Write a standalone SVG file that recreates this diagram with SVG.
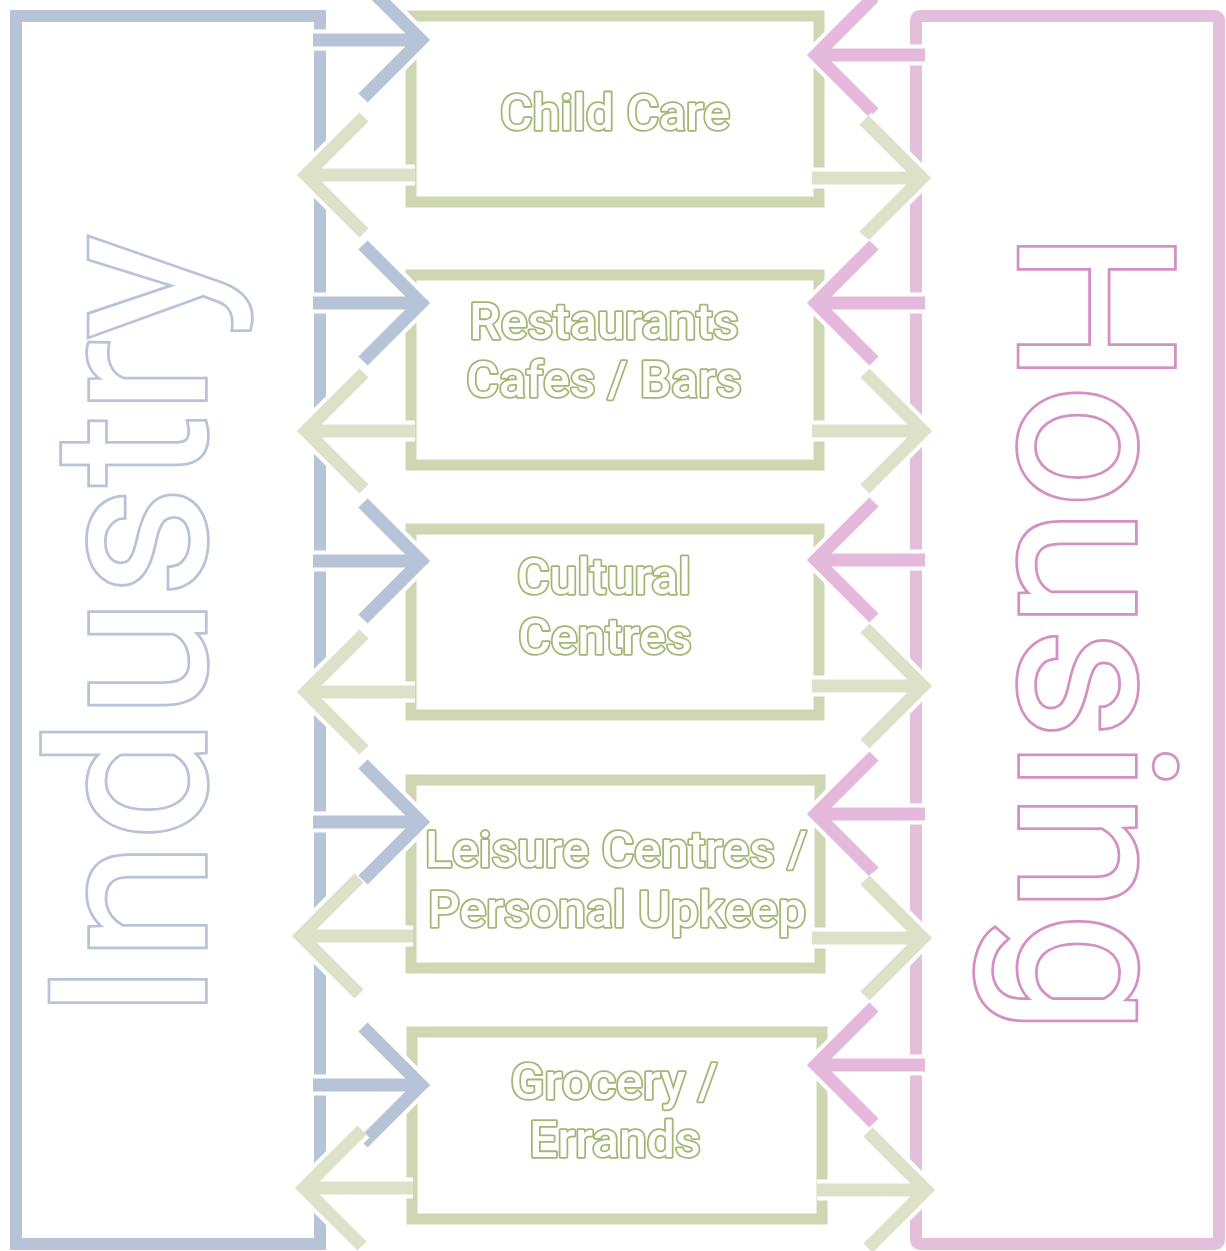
<svg xmlns="http://www.w3.org/2000/svg" width="1226" height="1251" viewBox="0 0 1226 1251">
<style>
.bg{fill:#ffffff}
.ind{fill:none;stroke:#b7c3d7;stroke-width:12}
.hou{fill:none;stroke:#e3bfdc;stroke-width:12}
.box{fill:none;stroke:#cfd6b2;stroke-width:11}
.halo{fill:none;stroke:#ffffff;stroke-width:21;stroke-linejoin:miter}
.ab{fill:none;stroke:#b7c3d7;stroke-width:13;stroke-linejoin:miter}
.ap{fill:none;stroke:#e5b9dc;stroke-width:13;stroke-linejoin:miter}
.ag{fill:none;stroke:#dce1c8;stroke-width:13;stroke-linejoin:miter}
.lbl{font-family:Roboto,"Liberation Sans",sans-serif;font-weight:500;font-size:50px;fill:#ffffff;stroke:#a3b775;stroke-width:3.6;paint-order:stroke fill;stroke-linejoin:round;text-anchor:middle}
.big{font-family:Roboto,"Liberation Sans",sans-serif;font-weight:400;fill:#ffffff;stroke-width:5.5;paint-order:stroke fill;stroke-linejoin:miter;text-anchor:middle}
</style>
<rect class="bg" x="0" y="0" width="1226" height="1251"/>
<g id="industry">
<rect class="ind" x="16" y="16" width="304" height="1228"/>
<text class="big" font-size="218" stroke="#b7c3d7" transform="translate(205,628) rotate(-90)">Industry</text>
</g>
<g id="housing">
<rect class="hou" x="916" y="16" width="303" height="1228" rx="4"/>
<text class="big" font-size="217" stroke="#d48fc3" transform="translate(1020,632) rotate(90)">Housing</text>
</g>
<g id="childcare">
<rect class="box" x="411" y="16" width="408" height="186"/>
</g>
<g id="restaurants">
<rect class="box" x="411" y="275" width="408" height="190"/>
</g>
<g id="cultural">
<rect class="box" x="411" y="529" width="408" height="186"/>
</g>
<g id="leisure">
<rect class="box" x="411" y="780" width="409" height="188"/>
</g>
<g id="grocery">
<rect class="box" x="412" y="1032" width="410" height="187"/>
</g>
<g id="connectors">
<!-- row 1 -->
<path class="halo" d="M313 40 H421 M363 -18 L421 40 L363 98"/>
<path class="ab" d="M313 40 H421 M363 -18 L421 40 L363 98"/>
<path class="halo" d="M925 55 H816 M874 -3 L816 55 L874 113"/>
<path class="ap" d="M925 55 H816 M874 -3 L816 55 L874 113"/>
<path class="halo" d="M415 175 H306 M364 117 L306 175 L364 233"/>
<path class="ag" d="M415 175 H306 M364 117 L306 175 L364 233"/>
<path class="halo" d="M812 178 H922 M864 120 L922 178 L864 236"/>
<path class="ag" d="M812 178 H922 M864 120 L922 178 L864 236"/>
<!-- row 2 -->
<path class="halo" d="M313 303 H421 M363 245 L421 303 L363 361"/>
<path class="ab" d="M313 303 H421 M363 245 L421 303 L363 361"/>
<path class="halo" d="M925 303 H816 M874 245 L816 303 L874 361"/>
<path class="ap" d="M925 303 H816 M874 245 L816 303 L874 361"/>
<path class="halo" d="M415 431 H306 M364 373 L306 431 L364 489"/>
<path class="ag" d="M415 431 H306 M364 373 L306 431 L364 489"/>
<path class="halo" d="M812 431 H923 M865 373 L923 431 L865 489"/>
<path class="ag" d="M812 431 H923 M865 373 L923 431 L865 489"/>
<!-- row 3 -->
<path class="halo" d="M313 561 H421 M363 503 L421 561 L363 619"/>
<path class="ab" d="M313 561 H421 M363 503 L421 561 L363 619"/>
<path class="halo" d="M925 560 H816 M874 502 L816 560 L874 618"/>
<path class="ap" d="M925 560 H816 M874 502 L816 560 L874 618"/>
<path class="halo" d="M415 692 H306 M364 634 L306 692 L364 750"/>
<path class="ag" d="M415 692 H306 M364 634 L306 692 L364 750"/>
<path class="halo" d="M812 686 H923 M865 628 L923 686 L865 744"/>
<path class="ag" d="M812 686 H923 M865 628 L923 686 L865 744"/>
<!-- row 4 -->
<path class="halo" d="M313 822 H421 M363 764 L421 822 L363 880"/>
<path class="ab" d="M313 822 H421 M363 764 L421 822 L363 880"/>
<path class="halo" d="M925 814 H816 M874 756 L816 814 L874 872"/>
<path class="ap" d="M925 814 H816 M874 756 L816 814 L874 872"/>
<path class="halo" d="M413 936 H301 M359 878 L301 936 L359 994"/>
<path class="ag" d="M413 936 H301 M359 878 L301 936 L359 994"/>
<path class="halo" d="M812 938 H923 M865 880 L923 938 L865 996"/>
<path class="ag" d="M812 938 H923 M865 880 L923 938 L865 996"/>
<!-- row 5 -->
<path class="halo" d="M313 1085 H421 M363 1027 L421 1085 L363 1143"/>
<path class="ab" d="M313 1085 H421 M363 1027 L421 1085 L363 1143"/>
<path class="halo" d="M925 1065 H816 M874 1007 L816 1065 L874 1123"/>
<path class="ap" d="M925 1065 H816 M874 1007 L816 1065 L874 1123"/>
<path class="halo" d="M413 1188 H304 M362 1130 L304 1188 L362 1246"/>
<path class="ag" d="M413 1188 H304 M362 1130 L304 1188 L362 1246"/>
<path class="halo" d="M817 1190 H926 M868 1132 L926 1190 L868 1248"/>
<path class="ag" d="M817 1190 H926 M868 1132 L926 1190 L868 1248"/>
</g>
<g id="labels">
<text class="lbl" x="615" y="130">Child Care</text>
<text class="lbl" x="604" y="339">Restaurants</text>
<text class="lbl" x="604" y="397">Cafes / Bars</text>
<text class="lbl" x="604" y="594">Cultural</text>
<text class="lbl" x="605" y="654">Centres</text>
<text class="lbl" x="616" y="867">Leisure Centres /</text>
<text class="lbl" x="617" y="927">Personal Upkeep</text>
<text class="lbl" x="614" y="1099">Grocery /</text>
<text class="lbl" x="615" y="1157">Errands</text>
</g>
</svg>
